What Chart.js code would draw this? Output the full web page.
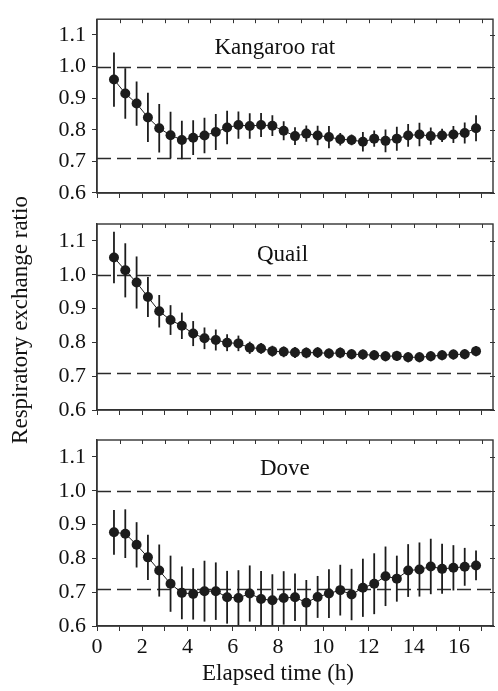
<!DOCTYPE html>
<html>
<head>
<meta charset="utf-8">
<script src="https://cdn.jsdelivr.net/npm/chart.js@4/dist/chart.umd.min.js"></script>
<style>
  html, body { margin: 0; padding: 0; background: #fff; }
  #wrap { position: relative; width: 498px; height: 691px; }
  #wrap canvas { position: absolute; left: 0; top: 0; }
</style>
</head>
<body>
<div id="wrap">
  <canvas id="rat" width="498" height="691"></canvas>
  <canvas id="quail" width="498" height="691"></canvas>
  <canvas id="dove" width="498" height="691"></canvas>
</div>
<script>
// elapsed time of each measurement (h)
var hours = [0.75, 1.25, 1.75, 2.25, 2.75, 3.25, 3.75, 4.25, 4.75, 5.25, 5.75,
             6.25, 6.75, 7.25, 7.75, 8.25, 8.75, 9.25, 9.75, 10.25, 10.75, 11.25,
             11.75, 12.25, 12.75, 13.25, 13.75, 14.25, 14.75, 15.25, 15.75, 16.25, 16.75];

// Kangaroo rat: mean RER and error bar half-length
var ratMean = [0.959, 0.915, 0.883, 0.839, 0.805, 0.783, 0.768, 0.775, 0.782, 0.793, 0.807,
               0.815, 0.812, 0.815, 0.813, 0.797, 0.780, 0.788, 0.782, 0.777, 0.770, 0.768,
               0.762, 0.772, 0.765, 0.772, 0.782, 0.785, 0.780, 0.782, 0.785, 0.790, 0.805];
var ratErr = [0.086, 0.080, 0.070, 0.078, 0.077, 0.074, 0.061, 0.055, 0.056, 0.057, 0.053,
              0.043, 0.040, 0.038, 0.033, 0.030, 0.028, 0.026, 0.031, 0.035, 0.020, 0.017,
              0.031, 0.026, 0.036, 0.038, 0.036, 0.037, 0.027, 0.021, 0.027, 0.033, 0.041];

// Quail
var quailMean = [1.051, 1.013, 0.977, 0.934, 0.892, 0.866, 0.849, 0.826, 0.812, 0.807, 0.799,
                 0.797, 0.784, 0.782, 0.774, 0.772, 0.770, 0.769, 0.770, 0.767, 0.769, 0.765,
                 0.764, 0.762, 0.759, 0.760, 0.756, 0.756, 0.759, 0.762, 0.764, 0.765, 0.774];
var quailErr = [0.076, 0.080, 0.077, 0.059, 0.048, 0.044, 0.039, 0.037, 0.032, 0.031, 0.025,
                0.023, 0.018, 0.016, 0.016, 0.016, 0.016, 0.016, 0.016, 0.015, 0.016, 0.015,
                0.015, 0.015, 0.015, 0.015, 0.015, 0.015, 0.015, 0.015, 0.015, 0.015, 0.015];

// Dove
var doveMean = [0.877, 0.873, 0.840, 0.803, 0.764, 0.725, 0.698, 0.695, 0.703, 0.703, 0.685,
                0.683, 0.696, 0.680, 0.676, 0.683, 0.685, 0.669, 0.686, 0.696, 0.706, 0.693,
                0.713, 0.725, 0.747, 0.740, 0.764, 0.767, 0.776, 0.769, 0.772, 0.775, 0.779];
var doveErr = [0.066, 0.072, 0.067, 0.067, 0.077, 0.083, 0.078, 0.076, 0.090, 0.085, 0.078,
               0.082, 0.083, 0.083, 0.077, 0.079, 0.070, 0.067, 0.062, 0.072, 0.075, 0.076,
               0.086, 0.090, 0.088, 0.068, 0.078, 0.080, 0.082, 0.074, 0.067, 0.056, 0.044];

// dashed reference levels (RER of pure carbohydrate / pure fat)
var refLines = [1.0, 0.71];

var yTicks = [0.6, 0.7, 0.8, 0.9, 1.0, 1.1];
var xTickLabels = [0, 2, 4, 6, 8, 10, 12, 14, 16];

var FONT = '"Liberation Serif", "Times New Roman", serif';
var INK = '#1c1c1c';

var panelPlugin = {
  id: 'panel',
  beforeDatasetsDraw: function (chart) {
    var ctx = chart.ctx, a = chart.chartArea;
    var x = chart.scales.x, y = chart.scales.y;
    ctx.save();
    ctx.beginPath();
    ctx.rect(a.left, a.top, a.right - a.left, a.bottom - a.top);
    ctx.clip();
    // dashed reference lines
    ctx.strokeStyle = '#2a2a2a';
    ctx.lineWidth = 1.3;
    ctx.setLineDash([14, 6]);
    refLines.forEach(function (v) {
      var py = Math.round(y.getPixelForValue(v)) + 0.5;
      ctx.beginPath();
      ctx.moveTo(a.left, py);
      ctx.lineTo(a.right, py);
      ctx.stroke();
    });
    ctx.setLineDash([]);
    // error bars
    var ds = chart.data.datasets[0];
    ctx.strokeStyle = INK;
    ctx.lineWidth = 1.8;
    ds.data.forEach(function (p, i) {
      var px = x.getPixelForValue(p.x);
      ctx.beginPath();
      ctx.moveTo(px, y.getPixelForValue(p.y + ds.err[i]));
      ctx.lineTo(px, y.getPixelForValue(p.y - ds.err[i]));
      ctx.stroke();
    });
    ctx.restore();
  },
  afterDraw: function (chart) {
    var ctx = chart.ctx, a = chart.chartArea;
    var x = chart.scales.x, y = chart.scales.y;
    var o = chart.options.plugins.panel;
    ctx.save();
    // frame
    ctx.strokeStyle = '#333';
    ctx.lineWidth = 1.4;
    ctx.strokeRect(a.left, a.top, a.right - a.left, a.bottom - a.top);
    // inward ticks on top and right
    ctx.lineWidth = 1;
    for (var h = 1; h <= 17; h++) {
      var px = Math.round(x.getPixelForValue(h)) + 0.5;
      ctx.beginPath();
      ctx.moveTo(px, a.top);
      ctx.lineTo(px, a.top + 4);
      ctx.stroke();
    }
    yTicks.forEach(function (v) {
      var py = Math.round(y.getPixelForValue(v)) + 0.5;
      ctx.beginPath();
      ctx.moveTo(a.right - 3, py);
      ctx.lineTo(a.right + 2, py);
      ctx.stroke();
    });
    // panel name
    ctx.fillStyle = '#111';
    ctx.font = '23px ' + FONT;
    ctx.textAlign = 'center';
    ctx.textBaseline = 'alphabetic';
    ctx.fillText(o.name, x.getPixelForValue(o.nameX), a.top + o.nameDy);
    // shared axis titles
    if (o.xTitle) {
      ctx.fillText(o.xTitle, 278, 680);
    }
    if (o.yTitle) {
      ctx.translate(21, 320);
      ctx.rotate(-Math.PI / 2);
      ctx.textBaseline = 'middle';
      ctx.fillText(o.yTitle, 0, 0);
    }
    ctx.restore();
  }
};

function makePanel(id, name, mean, err, layout) {
  var pts = hours.map(function (h, i) { return { x: h, y: mean[i] }; });
  return new Chart(document.getElementById(id), {
    type: 'line',
    data: {
      datasets: [{
        label: name,
        data: pts,
        err: err,
        borderColor: INK,
        borderWidth: 1,
        pointRadius: 5,
        pointBackgroundColor: INK,
        pointBorderWidth: 0,
        tension: 0
      }]
    },
    options: {
      responsive: false,
      animation: false,
      events: [],
      layout: { padding: { top: layout.top, bottom: layout.bottom, left: 0, right: 2 } },
      plugins: {
        legend: { display: false },
        tooltip: { enabled: false },
        panel: { name: name, nameX: layout.nameX, nameDy: layout.nameDy,
                 xTitle: layout.xTitle, yTitle: layout.yTitle }
      },
      scales: {
        x: {
          type: 'linear',
          min: 0,
          max: 17.5,
          afterFit: function (s) { s.height = layout.xHeight; },
          border: { display: true, color: '#333', width: 1.4 },
          grid: { drawOnChartArea: false, drawTicks: true, tickLength: 5, color: '#333' },
          ticks: {
            display: layout.xLabels,
            stepSize: 1,
            includeBounds: false,
            autoSkip: false,
            maxRotation: 0,
            padding: 3,
            color: '#111',
            font: { family: FONT, size: 22 },
            callback: function (v) { return xTickLabels.indexOf(v) >= 0 ? String(v) : ''; }
          }
        },
        y: {
          min: 0.6,
          max: 1.15,
          afterFit: function (s) { s.width = 97; },
          border: { display: true, color: '#333', width: 1.4 },
          grid: { drawOnChartArea: false, drawTicks: true, tickLength: 5, color: '#333' },
          ticks: {
            stepSize: 0.1,
            includeBounds: false,
            autoSkip: false,
            padding: 6,
            color: '#111',
            font: { family: FONT, size: 22 },
            callback: function (v) { return v.toFixed(1); }
          }
        }
      }
    },
    plugins: [panelPlugin]
  });
}

makePanel('rat', 'Kangaroo rat', ratMean, ratErr,
  { top: 6, bottom: 691 - 193 - 8, xHeight: 8, xLabels: false, nameX: 7.86, nameDy: 35 });
makePanel('quail', 'Quail', quailMean, quailErr,
  { top: 224, bottom: 691 - 410 - 8, xHeight: 8, xLabels: false, nameX: 8.2, nameDy: 37,
    yTitle: 'Respiratory exchange ratio' });
makePanel('dove', 'Dove', doveMean, doveErr,
  { top: 440, bottom: 691 - 626 - 32, xHeight: 32, xLabels: true, nameX: 8.3, nameDy: 35,
    xTitle: 'Elapsed time (h)' });
</script>
</body>
</html>
